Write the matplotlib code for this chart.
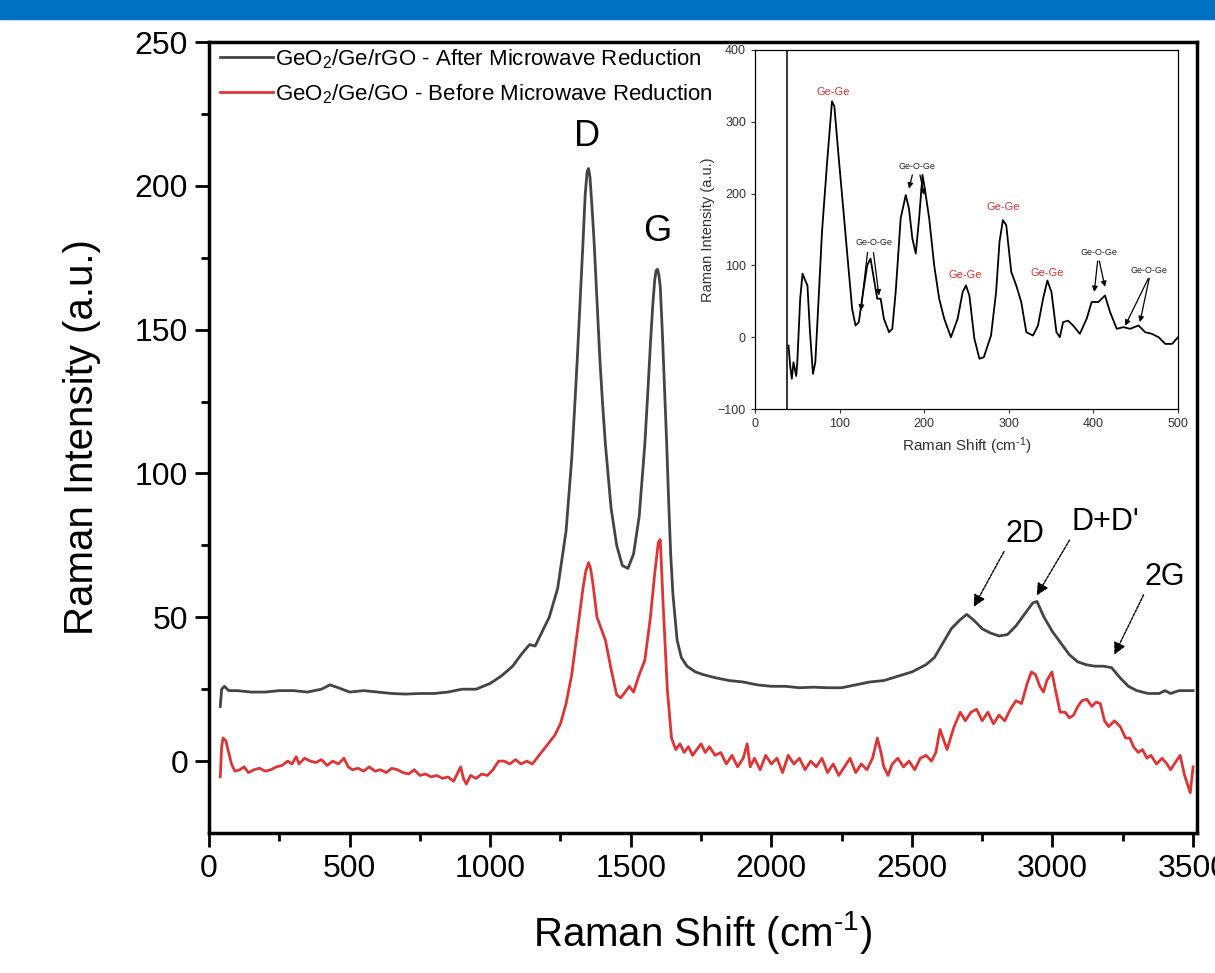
import numpy as np
import matplotlib
matplotlib.use("Agg")
import matplotlib.pyplot as plt
from matplotlib.patches import Rectangle

plt.rcParams['font.family'] = ['Liberation Sans', 'DejaVu Sans']
plt.rcParams['mathtext.fontset'] = 'custom'
plt.rcParams['mathtext.rm'] = 'Liberation Sans'
plt.rcParams['mathtext.it'] = 'Liberation Sans:italic'

# After microwave reduction (GeO2/Ge/rGO)
rgo_x = [40, 45, 55, 70, 100, 150, 200, 250, 300, 350, 400, 430, 460, 500, 550, 600, 650, 700,
         750, 800, 850, 900, 950, 1000, 1040, 1080, 1110, 1140, 1160, 1180, 1210, 1240, 1270, 1290,
         1300, 1310, 1320, 1330, 1338, 1345, 1350, 1355, 1362, 1370, 1380, 1390, 1400, 1410, 1430,
         1450, 1470, 1490, 1510, 1530, 1550, 1560, 1570, 1578, 1585, 1590, 1595, 1600, 1605, 1612,
         1620, 1628, 1635, 1642, 1650, 1665, 1680, 1700, 1730, 1760, 1800, 1850, 1900, 1950,
         2000, 2050, 2100, 2150, 2200, 2250, 2300, 2350, 2400, 2450, 2500, 2550, 2580, 2610, 2640,
         2670, 2695, 2720, 2750, 2780, 2810, 2840, 2870, 2900, 2930, 2945, 2970, 3000, 3030, 3060,
         3090, 3120, 3150, 3180, 3210, 3240, 3270, 3300, 3340, 3380, 3400, 3420, 3450, 3500]
rgo_y = [19, 25, 26, 24.5, 24.5, 24, 24, 24.5, 24.5, 24, 25, 26.5, 25.5, 24, 24.5, 24, 23.5, 23.3,
         23.5, 23.5, 24, 25, 25, 27, 29.6, 33, 37, 40.5, 40, 44, 50, 60, 80, 105,
         122, 140, 160, 180, 197, 205, 206, 203, 193, 180, 160, 140, 124, 110, 88,
         75, 68, 67, 72, 85, 110, 127, 145, 158, 167, 170.5, 171, 169, 165, 150,
         130, 110, 90, 72, 58, 42, 36, 33, 31, 30, 29, 28, 27.5, 26.5,
         26, 26, 25.5, 25.7, 25.5, 25.5, 26.5, 27.5, 28, 29.5, 31, 33.5, 36, 41, 46,
         49, 51, 49, 46, 44.5, 43.5, 44, 47, 51, 55, 55.5, 50, 45, 41, 37,
         34.5, 33.5, 33, 33, 32.5, 29, 26, 24.5, 23.5, 23.5, 24.5, 23.5, 24.5, 24.5]

# Before microwave reduction (GeO2/Ge/GO)
go_x = [40, 45, 50, 60, 70, 80, 92, 110, 125, 140, 160, 180, 200, 220, 240, 260, 280, 295, 310,
        320, 340, 360, 380, 400, 420, 440, 460, 480, 495, 510, 530, 550, 570, 590, 610, 630, 650,
        670, 690, 710, 730, 750, 770, 790, 810, 830, 850, 870, 885, 895, 905, 915, 930, 950, 970,
        990, 1010, 1030, 1050, 1070, 1090, 1110, 1130, 1150, 1170, 1190, 1210, 1230, 1250, 1270,
        1290, 1310, 1330, 1340, 1350, 1357, 1365, 1380, 1395, 1410, 1430, 1450, 1465, 1480, 1495,
        1510, 1530, 1550, 1570, 1585, 1598, 1605, 1615, 1630, 1645, 1660, 1675, 1690, 1705, 1720,
        1735, 1750, 1765, 1780, 1800, 1820, 1840, 1860, 1880, 1900, 1914, 1925, 1940, 1960, 1980,
        2000, 2020, 2040, 2060, 2080, 2100, 2120, 2140, 2160, 2180, 2200, 2220, 2240, 2260, 2280,
        2300, 2320, 2340, 2360, 2377, 2390, 2400, 2415, 2430, 2450, 2470, 2490, 2510, 2530, 2550,
        2570, 2585, 2600, 2625, 2650, 2672, 2690, 2710, 2730, 2750, 2770, 2790, 2810, 2830, 2850,
        2870, 2890, 2910, 2925, 2940, 2955, 2968, 2980, 2998, 3010, 3027, 3045, 3060, 3075, 3090,
        3105, 3122, 3140, 3155, 3170, 3185, 3200, 3220, 3241, 3260, 3275, 3288, 3305, 3320, 3336,
        3350, 3370, 3390, 3407, 3420, 3440, 3454, 3470, 3490, 3500]
go_y = [-5.5, 5, 8, 7, 3, -1, -3.5, -3, -2, -4, -3, -2.5, -3.5, -3, -2, -1.5, 0, -1, 1.5,
        -1, 1, 0, -0.5, 0.5, -1.5, 0, -1, 1, -2, -3, -2.5, -3.5, -2, -3.5, -3, -4, -2.5,
        -3, -4, -4.5, -3, -5, -4.5, -5.5, -5, -6, -5.5, -7, -4, -2, -6, -8, -5, -6, -4.5,
        -5, -3, 0, 0, -1, 0.5, -1, 0, -1, 1.5, 4, 6.5, 9, 13, 20,
        30, 45, 60, 66, 69, 67, 62, 50, 46, 42, 32, 23, 22, 24, 26,
        24, 30, 35, 50, 65, 76, 77, 55, 25, 8, 4, 6, 3, 5, 2,
        4, 6, 3, 5, 2, 3, -1, 2, -2, 1, 6, -2, 1, -3, 2,
        -1, 1, -4, 2, -1, 1, -3, 0, -2, 1, -4, -1, -5, -2, 1,
        -4, -1, -3, 1, 8, 3, -2, -5, -1, 1, -2, 0, -3, 1, 2,
        0, 3, 11, 4, 12, 17, 14, 17, 18, 14, 17, 13, 16, 14, 18,
        21, 20, 27, 31, 30, 26, 24, 28, 31, 25, 17, 17, 15, 16, 19,
        21, 21.5, 19, 20.5, 20, 14, 12, 14, 12, 8, 8, 5, 3, 4, 1,
        2, -1, 1, -1, -3, 0, 2, -5, -11, -2]

# Inset: low-wavenumber region
ins_x = [39.6, 41.6, 43.5, 45.5, 48.7, 50, 53.4, 56.2, 59.4, 62, 65, 68.5, 71.3, 75.2, 79.2, 85,
         91, 93.8, 99, 105, 110.9, 114.8, 118.8, 122.7, 126.7, 132.6, 136.6, 140.5, 144.5, 148.5,
         152.4, 158.4, 162.3, 166.3, 172.2, 178.2, 182, 186, 190, 194, 198, 200.7, 205.9, 211.8,
         217.7, 223.7, 231.6, 239.5, 245.5, 249.4, 253.4, 259.3, 265.3, 270.4, 275, 279, 285, 289,
         293, 297, 302.9, 308.8, 314.7, 320.7, 328.6, 334.5, 340.5, 345.6, 350.4, 356.3, 360.3,
         364.2, 370, 376, 384, 392, 397.9, 405.8, 409.8, 413.7, 419.7, 427.6, 435.5, 443.4, 453.3,
         461.2, 469.1, 477, 485, 493, 500]
ins_y = [-11.6, -40, -58, -35, -54, -35, 53.6, 88.5, 79, 72, 7, -51, -35, 53.6, 146.8, 240,
         328.5, 321.5, 249.3, 170, 91, 39.6, 16.3, 21, 53.6, 100, 109.5, 81.5, 53.6, 53.6,
         25.6, 7, 11.7, 63, 165.5, 198, 179, 137.6, 116.5, 165.5, 226, 207, 165.5, 100,
         53.6, 25.6, 0, 25.6, 63, 72, 58, -2, -30, -28, -11.7, 2.3, 63, 132.8,
         163, 156, 91, 72, 49, 7, 2.3, 16.3, 53.6, 79, 63, 7, 0,
         21, 23, 16.3, 4.7, 25.6, 49, 49, 53.6, 58, 35, 11.7, 14, 11.7, 16.3,
         7, 4.7, 0, -9.3, -9.3, 0]

peak_labels = ['D', 'G', '2D', "D+D'", '2G']
ins_labels = ['Ge-Ge', 'Ge-O-Ge', 'Ge-O-Ge', 'Ge-Ge', 'Ge-Ge', 'Ge-Ge', 'Ge-O-Ge', 'Ge-O-Ge']

fig = plt.figure(figsize=(12.15, 9.73), dpi=100)
fig.patches.append(Rectangle((0, 1 - 19 / 973), 1, 19 / 973, transform=fig.transFigure,
                             color='#0070c0', zorder=0))

ax = fig.add_axes([209 / 1215, 1 - 833 / 973, (1197 - 209) / 1215, (833 - 42) / 973])
ax.plot(rgo_x, rgo_y, color='#444444', lw=2.0,
        label='GeO$_2$/Ge/rGO - After Microwave Reduction')
ax.plot(go_x, go_y, color='#dd3535', lw=2.0,
        label='GeO$_2$/Ge/GO - Before Microwave Reduction')
ax.set_xlim(0, 3514)
ax.set_ylim(-25, 250)
ax.set_xticks(np.arange(0, 3501, 500))
ax.set_xticks(np.arange(250, 3500, 500), minor=True)
ax.set_yticks(np.arange(0, 251, 50))
ax.set_yticks(np.arange(25, 250, 50), minor=True)
ax.tick_params(which='major', direction='out', length=10, width=2, labelsize=23, pad=5,
               top=False, right=False)
ax.tick_params(which='minor', direction='out', length=6, width=2, top=False, right=False)
for s in ax.spines.values():
    s.set_linewidth(2.5)
ax.set_xlabel('Raman Shift (cm$^{\\text{-}1}$)', fontsize=29, labelpad=18)
ax.set_ylabel('Raman Intensity (a.u.)', fontsize=29, labelpad=24)

leg = ax.legend(loc='upper left', bbox_to_anchor=(-0.005, 1.013), frameon=False, fontsize=16,
                handlelength=2.4, handletextpad=0.1, labelspacing=0.5, borderaxespad=0.3)

ax.text(1345, 217, peak_labels[0], fontsize=26, ha='center', va='center')
ax.text(1594, 184, peak_labels[1], fontsize=26, ha='center', va='center')
arrow = dict(arrowstyle='-|>', color='black', lw=1, mutation_scale=18, shrinkA=0, shrinkB=0,
             linestyle=(0, (2, 1)))
ax.annotate(peak_labels[2], xy=(2720, 53.6), xytext=(2902, 79), fontsize=22,
            ha='center', va='center', arrowprops=dict(arrow, relpos=(0.0, 0.0)))
ax.annotate(peak_labels[3], xy=(2944, 57.6), xytext=(3187, 83), fontsize=22,
            ha='center', va='center', arrowprops=dict(arrow, relpos=(0.0, 0.0)))
ax.annotate(peak_labels[4], xy=(3220, 37), xytext=(3401, 64), fontsize=22,
            ha='center', va='center', arrowprops=dict(arrow, relpos=(0.0, 0.0)))

# inset
ins = fig.add_axes([755 / 1215, 1 - 409 / 973, (1178 - 755) / 1215, (409 - 50) / 973])
ins.plot(ins_x, ins_y, color='black', lw=1.3)
ins.axvline(38.4, color='black', lw=1.1)
ins.set_xlim(0, 500)
ins.set_ylim(-100, 400)
ins.set_xticks(np.arange(0, 501, 100))
ins.set_yticks(np.arange(-100, 401, 100))
ins.tick_params(direction='out', length=3, width=0.8, labelsize=9, colors='#333333')
for s in ins.spines.values():
    s.set_linewidth(0.9)
ins.set_xlabel('Raman Shift (cm$^{\\text{-}1}$)', fontsize=11, color='#333333', labelpad=4)
ins.set_ylabel('Raman Intensity (a.u.)', fontsize=10.5, color='#333333', labelpad=2)

ins_pos = [(92, 342), (140, 132), (191, 238), (294, 181), (249, 87), (345, 90), (407, 118), (466, 93)]
ins_col = ['#e03030', '#222222', '#222222', '#e03030', '#e03030', '#e03030', '#222222', '#222222']
for lab, (px, py), c in zip(ins_labels, ins_pos, ins_col):
    ins.text(px, py, lab, fontsize=8 if c != '#222222' else 6.5, color=c, ha='center', va='center')

sarrow = dict(arrowstyle='-|>', color='black', lw=0.9, mutation_scale=8, shrinkA=0, shrinkB=0)
ins_arrows = [((133, 118), (125, 37)), ((140, 118), (146.5, 58)), ((186, 226), (182, 207)),
              ((195, 226), (200, 198)), ((405, 106), (401, 63)), ((407, 106), (413.7, 70)),
              ((465, 82), (437.5, 16)), ((466, 82), (455, 21))]
for start, end in ins_arrows:
    ins.annotate('', xy=end, xytext=start, arrowprops=sarrow)

fig.savefig('out.png', dpi=100)
